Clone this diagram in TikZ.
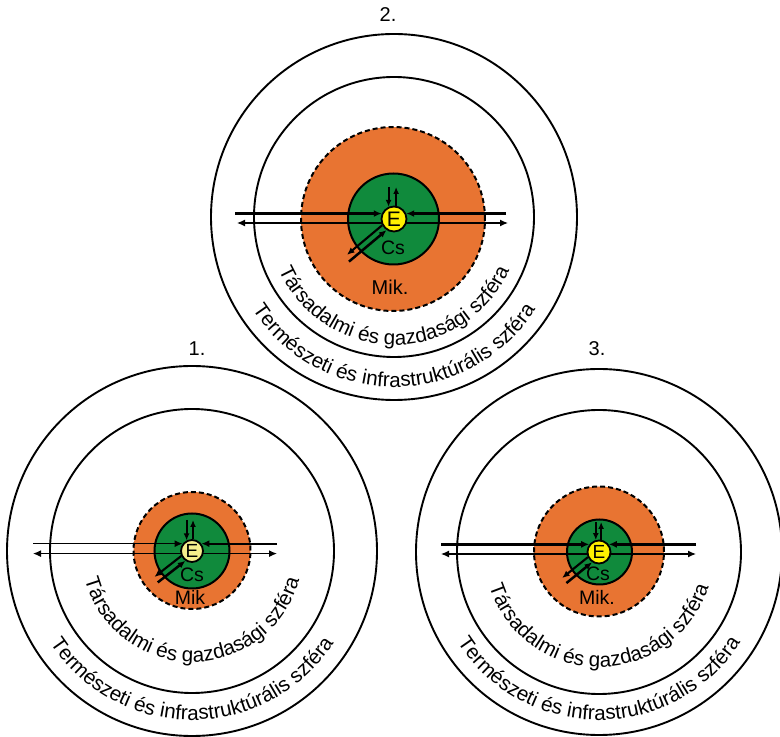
\documentclass[tikz,border=0pt]{standalone}
\usepackage{fontspec}
\setmainfont{Liberation Sans}
\usetikzlibrary{arrows.meta,decorations.text,calc}
\definecolor{mikorange}{RGB}{232,116,50}
\definecolor{csgreen}{RGB}{16,138,60}
\definecolor{eyellow}{RGB}{255,240,0}
\definecolor{epale}{RGB}{246,238,140}
\newcommand\arctext[3]{\path[decorate,decoration={text along path,text align=center,text={|\fontsize{20.6}{24}\selectfont|#3}}] ($(#1)+(180:#2)$) arc[start angle=180,end angle=360,radius=#2];}
\begin{document}
\begin{tikzpicture}[x=1pt,y=1pt,
  ring/.style={circle, draw=black, line width=1.9pt, inner sep=0pt, minimum size=#1},
  mik/.style={circle, draw=black, fill=mikorange, line width=2pt, dash pattern=on 5pt off 3pt, inner sep=0pt, minimum size=#1},
  cs/.style={circle, draw=black, fill=csgreen, line width=2pt, inner sep=0pt, minimum size=#1},
  enode/.style={circle, draw=black, line width=1.8pt, inner sep=0pt, minimum size=#1, font=\fontsize{19}{20}\selectfont},
  lbl/.style={font=\fontsize{19.5}{22}\selectfont, inner sep=0pt},
  num/.style={font=\fontsize{20}{24}\selectfont, inner sep=0pt},
  intip/.style={-{Latex[length=8pt,width=7pt]}},
  bothtip/.style={{Latex[length=8pt,width=7pt]}-{Latex[length=8pt,width=7pt]}, line width=1.2pt},
  vtip/.style={-{Latex[length=7pt,width=6pt]}, line width=2.1pt},
  dtip/.style={-{Latex[length=7.5pt,width=6.5pt]}, line width=2.1pt}
]
\useasboundingbox (0,0) rectangle (780,737);

% ---------------- Diagram 1 ----------------
\coordinate (c1) at (192,186);
\node[ring=370pt] (o1) at (c1) {};
\node[ring=284pt] (s1) at (c1) {};
\node[mik=117pt] (m1) at (192,186.5) {};
\node[cs=75pt] (g1) at (c1) {};
\coordinate (a1l) at (33,183.4);
\coordinate (a1r) at (277,183.4);
\draw[bothtip] (a1l) -- (a1r);
\node[enode=22pt, fill=epale] (e1) at (c1) {E};
\coordinate (u1l) at (33,0);
\coordinate (u1r) at (277,0);
\draw[intip, line width=1.2pt] (u1l |- e1.142) -- (e1.142);
\draw[intip, line width=2.2pt] (u1r |- e1.38) -- (e1.38);
\coordinate (v1) at (0,217);
\draw[vtip] (e1.117 |- v1) -- (e1.117);
\draw[vtip] (e1.85) -- (e1.85 |- v1);
\coordinate (d1o) at ($(e1.205)+(218:34)$);
\coordinate (d1i) at ($(e1.236)+(218:35)$);
\draw[dtip] (e1.205) -- (d1o);
\draw[dtip, line width=2.5pt] (d1i) -- (e1.236);
\node[lbl] (cs1) at (192,162) {Cs};
\node[lbl] (mk1) at (190,140) {Mik};
\arctext{c1}{111}{Társadalmi és gazdasági szféra}
\arctext{c1}{169}{Természeti és infrastruktúrális szféra}
\node[num] (n1) at (197,388) {1.};

% ---------------- Diagram 2 ----------------
\coordinate (c2) at (394,518);
\coordinate (r2) at (394,520);
\node[ring=366pt] (o2) at (r2) {};
\node[ring=280pt] (s2) at (r2) {};
\node[mik=184pt] (m2) at (393,518) {};
\node[cs=91pt] (g2) at (393.5,518) {};
\coordinate (a2l) at (237,514);
\coordinate (a2r) at (508,514);
\draw[bothtip] (a2l) -- (a2r);
\node[enode=25pt, fill=eyellow, font=\fontsize{21}{22}\selectfont] (e2) at (c2) {E};
\coordinate (u2l) at (235,0);
\coordinate (u2r) at (506,0);
\draw[intip, line width=2.5pt] (u2l |- e2.156) -- (e2.156);
\draw[intip, line width=2.5pt] (u2r |- e2.24) -- (e2.24);
\coordinate (v2) at (0,550);
\draw[vtip] (e2.114 |- v2) -- (e2.114);
\draw[vtip] (e2.81) -- (e2.81 |- v2);
\coordinate (d2o) at ($(e2.208)+(220:46)$);
\coordinate (d2i) at ($(e2.236)+(220:49)$);
\draw[dtip] (e2.208) -- (d2o);
\draw[dtip, line width=2.5pt] (d2i) -- (e2.236);
\node[lbl] (cs2) at (393,489) {Cs};
\node[lbl, font=\fontsize{20}{22}\selectfont] (mk2) at (390,450) {Mik.};
\arctext{c2}{126}{Társadalmi és gazdasági szféra}
\arctext{c2}{168}{Természeti és infrastruktúrális szféra}
\node[num] (n2) at (388,722) {2.};

% ---------------- Diagram 3 ----------------
\coordinate (c3) at (599,185);
\node[ring=366pt] (o3) at (c3) {};
\node[ring=284pt] (s3) at (c3) {};
\node[mik=130pt] (m3) at (599,185.5) {};
\node[cs=65pt] (g3) at (599.5,185) {};
\coordinate (a3l) at (441,183);
\coordinate (a3r) at (696,183);
\draw[bothtip] (a3l) -- (a3r);
\node[enode=23pt, fill=eyellow] (e3) at (c3) {E};
\coordinate (u3l) at (441,0);
\coordinate (u3r) at (696,0);
\draw[intip, line width=3.5pt] (u3l |- e3.142) -- (e3.142);
\draw[intip, line width=3.5pt] (u3r |- e3.38) -- (e3.38);
\coordinate (v3) at (0,215);
\draw[vtip] (e3.105 |- v3) -- (e3.105);
\draw[vtip] (e3.80) -- (e3.80 |- v3);
\coordinate (d3o) at ($(e3.205)+(219:33)$);
\coordinate (d3i) at ($(e3.236)+(219:33)$);
\draw[dtip] (e3.205) -- (d3o);
\draw[dtip, line width=2.5pt] (d3i) -- (e3.236);
\node[lbl] (cs3) at (598,163) {Cs};
\node[lbl] (mk3) at (597,140) {Mik.};
\arctext{c3}{115}{Társadalmi és gazdasági szféra}
\arctext{c3}{168}{Természeti és infrastruktúrális szféra}
\node[num] (n3) at (597,388) {3.};
\end{tikzpicture}
\end{document}
